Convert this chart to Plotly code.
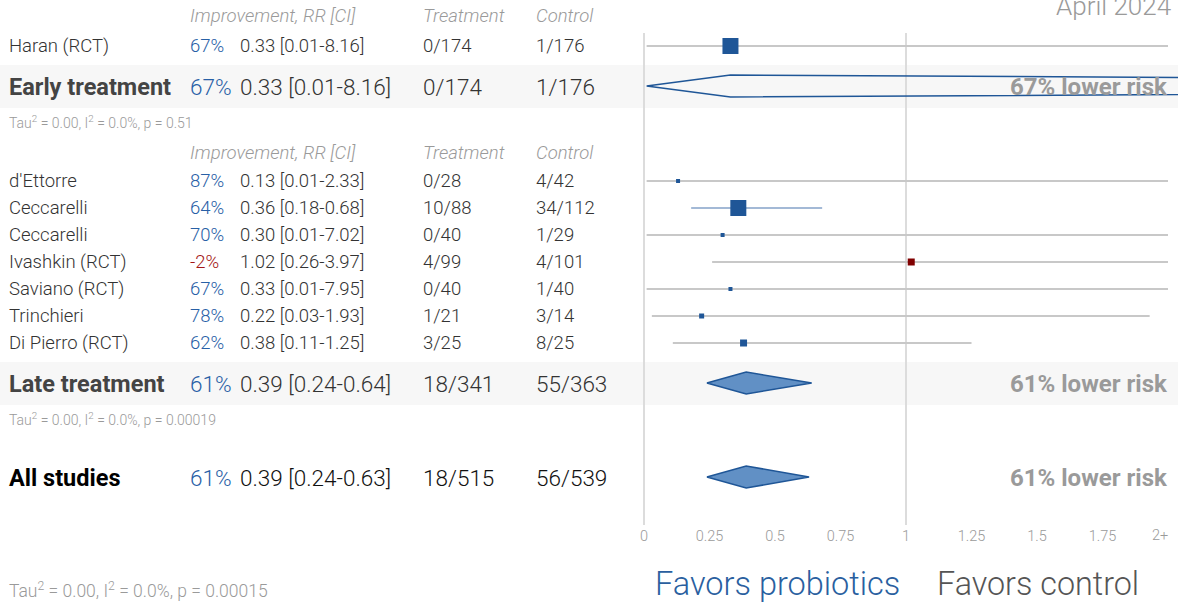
import plotly.graph_objects as go

# ---------------- data ----------------
early_names = ["Haran (RCT)"]
early_rr = [0.33]
early_lo = [0.01]
early_hi = [8.16]
early_impr = [67]
early_treat = ["0/174"]
early_ctrl = ["1/176"]

late_names = ["d'Ettorre", "Ceccarelli", "Ceccarelli", "Ivashkin (RCT)",
              "Saviano (RCT)", "Trinchieri", "Di Pierro (RCT)"]
late_rr = [0.13, 0.36, 0.30, 1.02, 0.33, 0.22, 0.38]
late_lo = [0.01, 0.18, 0.01, 0.26, 0.01, 0.03, 0.11]
late_hi = [2.33, 0.68, 7.02, 3.97, 7.95, 1.93, 1.25]
late_impr = [87, 64, 70, -2, 67, 78, 62]
late_treat = ["0/28", "10/88", "0/40", "4/99", "0/40", "1/21", "3/25"]
late_ctrl = ["4/42", "34/112", "1/29", "4/101", "1/40", "3/14", "8/25"]

group_labels = ["Early treatment", "Late treatment", "All studies"]
group_rr = [0.33, 0.39, 0.39]
group_lo = [0.01, 0.24, 0.24]
group_hi = [8.16, 0.64, 0.63]
group_impr = [67, 61, 61]
group_treat = ["0/174", "18/341", "18/515"]
group_ctrl = ["1/176", "55/363", "56/539"]
group_stats = ["Tau<sup>2</sup> = 0.00, I<sup>2</sup> = 0.0%, p = 0.51",
               "Tau<sup>2</sup> = 0.00, I<sup>2</sup> = 0.0%, p = 0.00019",
               "Tau<sup>2</sup> = 0.00, I<sup>2</sup> = 0.0%, p = 0.00015"]

tick_vals = [0, 0.25, 0.5, 0.75, 1, 1.25, 1.5, 1.75]
tick_text = ["0", "0.25", "0.5", "0.75", "1", "1.25", "1.5", "1.75"]
last_tick_val = 2
last_tick_text = "2+"
date_label = "April 2024"

# ---------------- layout / style ----------------
W, H = 1178, 603
X0_PX, X1_PX = 644, 906            # pixel of RR=0 and RR=1
SPAN = X1_PX - X0_PX
XMAX_CLIP = 2.0

COL = {"name": 9, "pct": 190, "rr": 240, "treat": 423, "ctrl": 536}
HEADER_Y = [15, 152]
EARLY_Y = [45]
LATE_Y = [180, 207, 234, 261, 288, 315, 342]
GROUP_Y = [86, 383, 477]
STATS_Y = [121, 418, 589]
BANDS = [(65, 108), (362, 405)]
VLINE_Y = (33, 525)
DIAMOND_HALF = 11
TEXT_SHIFT = -1

EARLY_MSIZE = [16]
LATE_MSIZE = [4, 16, 4, 7, 4, 5, 7]

BLUE = "#1f5697"
RED = "#800000"
PCT_BLUE = "#2860a6"
PCT_RED = "#a31515"
GRAY_CI = "#c8c8c8"
SIG_CI = "#a3b9d6"
FONT = "Roboto"
F_ROW = 18.5
F_GROUP = 22.5
F_GROUP_BOLD = 23.5

fig = go.Figure()

# background bands
shapes = []
for y0, y1 in BANDS:
    shapes.append(dict(type="rect", xref="paper", yref="y", x0=0, x1=1, y0=y0, y1=y1,
                       fillcolor="#f7f7f7", line=dict(width=0), layer="below"))
for xv in (0, 1):
    shapes.append(dict(type="line", xref="x", yref="y", x0=xv, x1=xv,
                       y0=VLINE_Y[0], y1=VLINE_Y[1],
                       line=dict(color="#dcdcdc", width=2), layer="below"))


def add_study(rr, lo, hi, y, msize):
    ci_col = SIG_CI if hi < 1 else GRAY_CI
    fig.add_trace(go.Scatter(x=[lo, min(hi, XMAX_CLIP)], y=[y, y], mode="lines",
                             line=dict(color=ci_col, width=2), hoverinfo="skip"))
    fig.add_trace(go.Scatter(x=[rr], y=[y], mode="markers",
                             marker=dict(symbol="square", size=msize,
                                         color=BLUE if rr < 1 else RED,
                                         line=dict(width=0)),
                             hoverinfo="skip"))


for i in range(len(early_rr)):
    add_study(early_rr[i], early_lo[i], early_hi[i], EARLY_Y[i] + 1, EARLY_MSIZE[i])
for i in range(len(late_rr)):
    add_study(late_rr[i], late_lo[i], late_hi[i], LATE_Y[i] + 1, LATE_MSIZE[i])

# diamonds
for g in range(len(group_rr)):
    yc = GROUP_Y[g]
    xs = [group_lo[g], group_rr[g], group_hi[g], group_rr[g], group_lo[g]]
    ys = [yc, yc - DIAMOND_HALF, yc, yc + DIAMOND_HALF, yc]
    filled = group_hi[g] <= XMAX_CLIP
    fig.add_trace(go.Scatter(x=xs, y=ys, mode="lines", fill="toself",
                             fillcolor="#6190c5" if filled else "rgba(0,0,0,0)",
                             line=dict(color=BLUE, width=1.5), hoverinfo="skip"))

ann = []


def txt(x_px, y, text, size, color, weight=300, style="normal", xanchor="left"):
    ann.append(dict(x=x_px / W, xref="paper", y=y, yref="y", text=text, showarrow=False,
                    xanchor=xanchor, yanchor="middle", borderpad=0, borderwidth=0,
                    yshift=TEXT_SHIFT,
                    font=dict(family=FONT, size=size, color=color, weight=weight, style=style)))


# headers
for hy in HEADER_Y:
    txt(COL["pct"], hy, "Improvement, RR [CI]", F_ROW, "#9a9a9a", style="italic")
    txt(COL["treat"], hy, "Treatment", F_ROW, "#9a9a9a", style="italic")
    txt(COL["ctrl"], hy, "Control", F_ROW, "#9a9a9a", style="italic")


def study_row(y, name, impr, rr, lo, hi, tr, ct):
    txt(COL["name"], y, name, F_ROW, "#333333")
    txt(COL["pct"], y, f"{impr}%", F_ROW, PCT_BLUE if impr >= 0 else PCT_RED)
    txt(COL["rr"], y, f"{rr:.2f} [{lo:.2f}-{hi:.2f}]", F_ROW, "#333333")
    txt(COL["treat"], y, tr, F_ROW, "#333333")
    txt(COL["ctrl"], y, ct, F_ROW, "#333333")


for i in range(len(early_names)):
    study_row(EARLY_Y[i], early_names[i], early_impr[i], early_rr[i], early_lo[i],
              early_hi[i], early_treat[i], early_ctrl[i])
for i in range(len(late_names)):
    study_row(LATE_Y[i], late_names[i], late_impr[i], late_rr[i], late_lo[i],
              late_hi[i], late_treat[i], late_ctrl[i])

for g in range(len(group_labels)):
    y = GROUP_Y[g]
    main = "#000000" if g == 2 else "#444444"
    numc = "#111111" if g == 2 else "#333333"
    txt(COL["name"], y, group_labels[g], F_GROUP_BOLD, main, weight=700)
    txt(COL["pct"], y, f"{group_impr[g]}%", F_GROUP, PCT_BLUE)
    txt(COL["rr"], y, f"{group_rr[g]:.2f} [{group_lo[g]:.2f}-{group_hi[g]:.2f}]", F_GROUP, numc)
    txt(COL["treat"], y, group_treat[g], F_GROUP, numc)
    txt(COL["ctrl"], y, group_ctrl[g], F_GROUP, numc)
    txt(1168, y, f"{group_impr[g]}% lower risk", 24, "#9a9a9a", weight=700, xanchor="right")
    txt(COL["name"], STATS_Y[g], group_stats[g], 14 if g < 2 else 17.5, "#9a9a9a")

txt(655, 583, "Favors probiotics", 32.5, "#2a5f9f")
txt(937, 583, "Favors control", 32.3, "#555555")
txt(1171, 5, date_label, 26, "#9a9a9a", xanchor="right")

# last tick label ("2+"), right-aligned at its value on the x scale
ann.append(dict(x=last_tick_val, xref="x", y=1 - VLINE_Y[1] / H, yref="paper",
                text=last_tick_text, showarrow=False, xanchor="right", yanchor="top",
                yshift=-2, borderpad=0, borderwidth=0,
                font=dict(family=FONT, size=14.5, color="#9a9a9a", weight=300)))

fig.update_layout(
    width=W, height=H, margin=dict(l=0, r=0, t=0, b=0),
    paper_bgcolor="white", plot_bgcolor="rgba(0,0,0,0)",
    showlegend=False, hovermode=False,
    shapes=shapes, annotations=ann,
    xaxis=dict(range=[-X0_PX / SPAN, (W - X0_PX) / SPAN], domain=[0, 1],
               anchor="free", position=1 - VLINE_Y[1] / H,
               showgrid=False, zeroline=False, showline=False, ticks="",
               tickvals=tick_vals, ticktext=tick_text,
               tickfont=dict(family=FONT, size=14.5, color="#9a9a9a", weight=300)),
    yaxis=dict(range=[H, 0], domain=[0, 1], visible=False, showgrid=False, zeroline=False),
)

fig.write_html("out.html")
